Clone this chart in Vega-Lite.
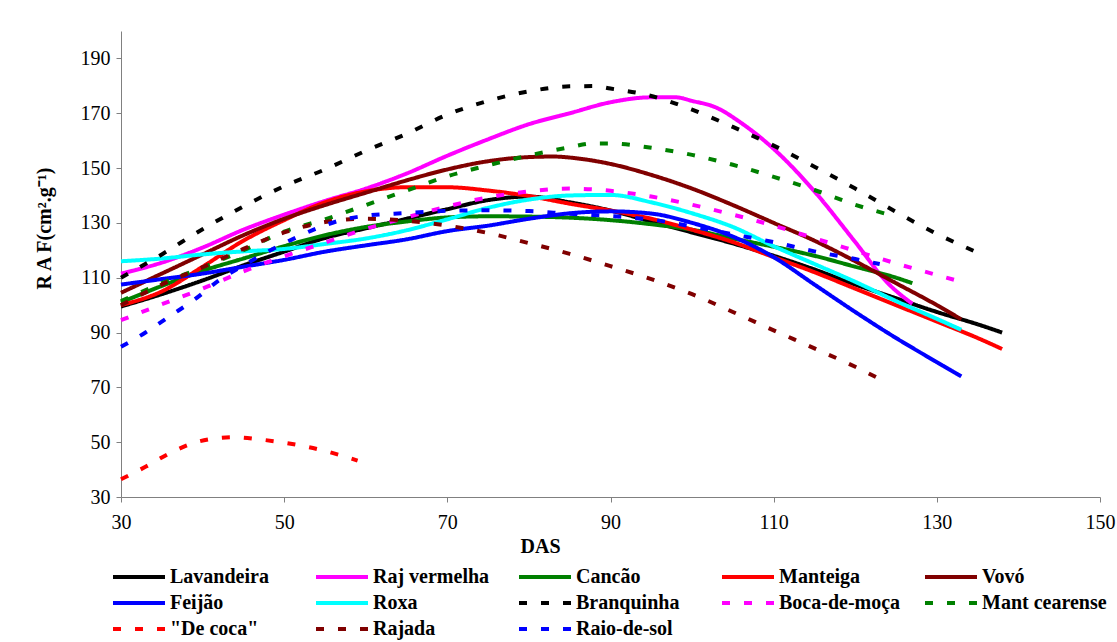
{
  "$schema": "https://vega.github.io/schema/vega-lite/v6.json",
  "width": 979,
  "height": 466,
  "autosize": {"type": "none"},
  "padding": {"left": 121, "top": 31, "right": 17, "bottom": 145},
  "background": "white",
  "config": {
    "view": {"stroke": null},
    "font": "Liberation Serif"
  },
  "data": {
    "values": [
      {"c":"Lavandeira","d":30,"r":99.5},{"c":"Lavandeira","d":35,"r":104},{"c":"Lavandeira","d":40,"r":109},{"c":"Lavandeira","d":45,"r":114.5},{"c":"Lavandeira","d":50,"r":119.5},{"c":"Lavandeira","d":55,"r":124.5},{"c":"Lavandeira","d":60,"r":128},{"c":"Lavandeira","d":65,"r":131.5},{"c":"Lavandeira","d":70,"r":135},{"c":"Lavandeira","d":75,"r":138.3},{"c":"Lavandeira","d":80,"r":139.6},{"c":"Lavandeira","d":85,"r":137.5},{"c":"Lavandeira","d":90,"r":134.5},{"c":"Lavandeira","d":95,"r":130.5},{"c":"Lavandeira","d":100,"r":126.5},{"c":"Lavandeira","d":105,"r":122.5},{"c":"Lavandeira","d":110,"r":118},{"c":"Lavandeira","d":115,"r":113},{"c":"Lavandeira","d":120,"r":107.5},{"c":"Lavandeira","d":125,"r":102.5},{"c":"Lavandeira","d":130,"r":97.5},{"c":"Lavandeira","d":135,"r":93},{"c":"Lavandeira","d":138,"r":90},
      {"c":"Raj vermelha","d":30,"r":111.5},{"c":"Raj vermelha","d":35,"r":115.5},{"c":"Raj vermelha","d":40,"r":121},{"c":"Raj vermelha","d":45,"r":127.5},{"c":"Raj vermelha","d":50,"r":133},{"c":"Raj vermelha","d":55,"r":138},{"c":"Raj vermelha","d":60,"r":142.5},{"c":"Raj vermelha","d":65,"r":148},{"c":"Raj vermelha","d":70,"r":154.5},{"c":"Raj vermelha","d":75,"r":160.5},{"c":"Raj vermelha","d":80,"r":166},{"c":"Raj vermelha","d":85,"r":170},{"c":"Raj vermelha","d":90,"r":174},{"c":"Raj vermelha","d":95,"r":175.8},{"c":"Raj vermelha","d":98,"r":175.8},{"c":"Raj vermelha","d":100,"r":174.5},{"c":"Raj vermelha","d":103,"r":172},{"c":"Raj vermelha","d":106,"r":166.5},{"c":"Raj vermelha","d":110,"r":157},{"c":"Raj vermelha","d":115,"r":141.5},{"c":"Raj vermelha","d":120,"r":123},{"c":"Raj vermelha","d":124,"r":108},{"c":"Raj vermelha","d":127,"r":100.5},
      {"c":"Cancão","d":30,"r":101},{"c":"Cancão","d":35,"r":107},{"c":"Cancão","d":40,"r":112.5},{"c":"Cancão","d":45,"r":117},{"c":"Cancão","d":50,"r":121.5},{"c":"Cancão","d":55,"r":125.5},{"c":"Cancão","d":60,"r":128.5},{"c":"Cancão","d":65,"r":130.5},{"c":"Cancão","d":70,"r":132},{"c":"Cancão","d":75,"r":132.4},{"c":"Cancão","d":80,"r":132.3},{"c":"Cancão","d":85,"r":131.9},{"c":"Cancão","d":90,"r":131},{"c":"Cancão","d":95,"r":129.5},{"c":"Cancão","d":100,"r":127.5},{"c":"Cancão","d":105,"r":124.3},{"c":"Cancão","d":110,"r":121.3},{"c":"Cancão","d":115,"r":118},{"c":"Cancão","d":120,"r":114},{"c":"Cancão","d":125,"r":110},{"c":"Cancão","d":127,"r":108},
      {"c":"Manteiga","d":30,"r":100},{"c":"Manteiga","d":35,"r":105},{"c":"Manteiga","d":40,"r":114},{"c":"Manteiga","d":45,"r":123.5},{"c":"Manteiga","d":50,"r":131},{"c":"Manteiga","d":55,"r":137.5},{"c":"Manteiga","d":60,"r":141.5},{"c":"Manteiga","d":65,"r":143},{"c":"Manteiga","d":70,"r":143},{"c":"Manteiga","d":75,"r":141.8},{"c":"Manteiga","d":80,"r":139.8},{"c":"Manteiga","d":85,"r":137},{"c":"Manteiga","d":90,"r":134.5},{"c":"Manteiga","d":95,"r":131.5},{"c":"Manteiga","d":100,"r":127.5},{"c":"Manteiga","d":105,"r":123},{"c":"Manteiga","d":110,"r":117.5},{"c":"Manteiga","d":115,"r":112},{"c":"Manteiga","d":120,"r":106},{"c":"Manteiga","d":125,"r":100},{"c":"Manteiga","d":130,"r":94},{"c":"Manteiga","d":135,"r":88},{"c":"Manteiga","d":138,"r":84},
      {"c":"Vovó","d":30,"r":104.5},{"c":"Vovó","d":35,"r":111.5},{"c":"Vovó","d":40,"r":118.5},{"c":"Vovó","d":45,"r":125.5},{"c":"Vovó","d":50,"r":131.5},{"c":"Vovó","d":55,"r":136.5},{"c":"Vovó","d":60,"r":141},{"c":"Vovó","d":65,"r":145.5},{"c":"Vovó","d":70,"r":149.5},{"c":"Vovó","d":75,"r":152.5},{"c":"Vovó","d":80,"r":154},{"c":"Vovó","d":83,"r":154.2},{"c":"Vovó","d":86,"r":153.5},{"c":"Vovó","d":90,"r":151.5},{"c":"Vovó","d":95,"r":147.5},{"c":"Vovó","d":100,"r":142.5},{"c":"Vovó","d":105,"r":136.5},{"c":"Vovó","d":110,"r":130},{"c":"Vovó","d":115,"r":123.5},{"c":"Vovó","d":120,"r":116},{"c":"Vovó","d":125,"r":108},{"c":"Vovó","d":130,"r":100},{"c":"Vovó","d":133,"r":94.8},
      {"c":"Feijão","d":30,"r":107.5},{"c":"Feijão","d":35,"r":109.5},{"c":"Feijão","d":40,"r":111.5},{"c":"Feijão","d":45,"r":114},{"c":"Feijão","d":50,"r":116.5},{"c":"Feijão","d":55,"r":119.5},{"c":"Feijão","d":60,"r":121.8},{"c":"Feijão","d":65,"r":124},{"c":"Feijão","d":70,"r":127},{"c":"Feijão","d":75,"r":129},{"c":"Feijão","d":80,"r":131.5},{"c":"Feijão","d":85,"r":133.5},{"c":"Feijão","d":90,"r":134.2},{"c":"Feijão","d":95,"r":133.4},{"c":"Feijão","d":100,"r":130},{"c":"Feijão","d":105,"r":125},{"c":"Feijão","d":110,"r":117.5},{"c":"Feijão","d":115,"r":107.5},{"c":"Feijão","d":120,"r":97.5},{"c":"Feijão","d":125,"r":88},{"c":"Feijão","d":130,"r":79.2},{"c":"Feijão","d":133,"r":74},
      {"c":"Roxa","d":30,"r":116},{"c":"Roxa","d":35,"r":117},{"c":"Roxa","d":40,"r":118.5},{"c":"Roxa","d":45,"r":119.6},{"c":"Roxa","d":50,"r":120.5},{"c":"Roxa","d":55,"r":122.3},{"c":"Roxa","d":60,"r":124.3},{"c":"Roxa","d":65,"r":127.3},{"c":"Roxa","d":70,"r":131.3},{"c":"Roxa","d":75,"r":135.5},{"c":"Roxa","d":80,"r":138.5},{"c":"Roxa","d":85,"r":140},{"c":"Roxa","d":90,"r":140.2},{"c":"Roxa","d":95,"r":137.5},{"c":"Roxa","d":100,"r":133.5},{"c":"Roxa","d":105,"r":128.5},{"c":"Roxa","d":110,"r":121.5},{"c":"Roxa","d":115,"r":115},{"c":"Roxa","d":120,"r":108.5},{"c":"Roxa","d":125,"r":101.5},{"c":"Roxa","d":130,"r":95},{"c":"Roxa","d":133,"r":91},
      {"c":"Branquinha","d":30,"r":110},{"c":"Branquinha","d":35,"r":118.5},{"c":"Branquinha","d":40,"r":127.7},{"c":"Branquinha","d":45,"r":136},{"c":"Branquinha","d":50,"r":143.4},{"c":"Branquinha","d":55,"r":149.5},{"c":"Branquinha","d":60,"r":156.3},{"c":"Branquinha","d":65,"r":162.5},{"c":"Branquinha","d":70,"r":169.5},{"c":"Branquinha","d":75,"r":174.5},{"c":"Branquinha","d":80,"r":178},{"c":"Branquinha","d":85,"r":179.8},{"c":"Branquinha","d":88,"r":179.9},{"c":"Branquinha","d":90,"r":179},{"c":"Branquinha","d":95,"r":176.3},{"c":"Branquinha","d":100,"r":171.3},{"c":"Branquinha","d":105,"r":165},{"c":"Branquinha","d":110,"r":158.2},{"c":"Branquinha","d":115,"r":150.5},{"c":"Branquinha","d":120,"r":142.5},{"c":"Branquinha","d":125,"r":134},{"c":"Branquinha","d":130,"r":126},{"c":"Branquinha","d":134.5,"r":119.8},
      {"c":"Boca-de-moça","d":30,"r":94.5},{"c":"Boca-de-moça","d":35,"r":100.3},{"c":"Boca-de-moça","d":40,"r":106},{"c":"Boca-de-moça","d":45,"r":112.3},{"c":"Boca-de-moça","d":50,"r":117.8},{"c":"Boca-de-moça","d":55,"r":122.8},{"c":"Boca-de-moça","d":60,"r":127.8},{"c":"Boca-de-moça","d":65,"r":132},{"c":"Boca-de-moça","d":70,"r":136},{"c":"Boca-de-moça","d":75,"r":139.3},{"c":"Boca-de-moça","d":80,"r":141.5},{"c":"Boca-de-moça","d":85,"r":142.5},{"c":"Boca-de-moça","d":88,"r":142.2},{"c":"Boca-de-moça","d":90,"r":141.7},{"c":"Boca-de-moça","d":95,"r":139.6},{"c":"Boca-de-moça","d":100,"r":136.6},{"c":"Boca-de-moça","d":105,"r":133},{"c":"Boca-de-moça","d":110,"r":129},{"c":"Boca-de-moça","d":115,"r":124.4},{"c":"Boca-de-moça","d":120,"r":119.8},{"c":"Boca-de-moça","d":125,"r":115.2},{"c":"Boca-de-moça","d":130,"r":111},{"c":"Boca-de-moça","d":133,"r":108.5},
      {"c":"Mant cearense","d":30,"r":101.5},{"c":"Mant cearense","d":35,"r":108},{"c":"Mant cearense","d":40,"r":113.7},{"c":"Mant cearense","d":45,"r":120},{"c":"Mant cearense","d":50,"r":126.8},{"c":"Mant cearense","d":55,"r":131.3},{"c":"Mant cearense","d":60,"r":136.5},{"c":"Mant cearense","d":65,"r":141.8},{"c":"Mant cearense","d":70,"r":147},{"c":"Mant cearense","d":75,"r":151},{"c":"Mant cearense","d":80,"r":154.6},{"c":"Mant cearense","d":85,"r":157.6},{"c":"Mant cearense","d":88,"r":159},{"c":"Mant cearense","d":90,"r":159},{"c":"Mant cearense","d":95,"r":157.4},{"c":"Mant cearense","d":100,"r":154.8},{"c":"Mant cearense","d":105,"r":151.2},{"c":"Mant cearense","d":110,"r":146.8},{"c":"Mant cearense","d":115,"r":142},{"c":"Mant cearense","d":120,"r":136.6},{"c":"Mant cearense","d":125,"r":132.3},
      {"c":"\"De coca\"","d":30,"r":36.5},{"c":"\"De coca\"","d":33,"r":41},{"c":"\"De coca\"","d":36,"r":46},{"c":"\"De coca\"","d":39,"r":49.8},{"c":"\"De coca\"","d":42,"r":51.5},{"c":"\"De coca\"","d":44,"r":51.8},{"c":"\"De coca\"","d":47,"r":51},{"c":"\"De coca\"","d":50,"r":49.8},{"c":"\"De coca\"","d":53,"r":48.2},{"c":"\"De coca\"","d":56,"r":46},{"c":"\"De coca\"","d":59,"r":43.3},
      {"c":"Rajada","d":30,"r":100},{"c":"Rajada","d":35,"r":107.5},{"c":"Rajada","d":40,"r":113.8},{"c":"Rajada","d":45,"r":120.5},{"c":"Rajada","d":50,"r":126.5},{"c":"Rajada","d":55,"r":130.3},{"c":"Rajada","d":60,"r":131.5},{"c":"Rajada","d":65,"r":130.8},{"c":"Rajada","d":70,"r":129},{"c":"Rajada","d":75,"r":126.3},{"c":"Rajada","d":80,"r":122.6},{"c":"Rajada","d":85,"r":118.7},{"c":"Rajada","d":90,"r":114.2},{"c":"Rajada","d":95,"r":109.5},{"c":"Rajada","d":100,"r":104},{"c":"Rajada","d":105,"r":97.5},{"c":"Rajada","d":110,"r":90.8},{"c":"Rajada","d":115,"r":84.2},{"c":"Rajada","d":120,"r":77.5},{"c":"Rajada","d":124,"r":71.5},
      {"c":"Raio-de-sol","d":30,"r":84.8},{"c":"Raio-de-sol","d":33,"r":90},{"c":"Raio-de-sol","d":36,"r":96},{"c":"Raio-de-sol","d":39,"r":102},{"c":"Raio-de-sol","d":42,"r":109},{"c":"Raio-de-sol","d":45,"r":114.5},{"c":"Raio-de-sol","d":48,"r":119.5},{"c":"Raio-de-sol","d":51,"r":124},{"c":"Raio-de-sol","d":54,"r":128},{"c":"Raio-de-sol","d":57,"r":131},{"c":"Raio-de-sol","d":60,"r":132.6},{"c":"Raio-de-sol","d":65,"r":133.6},{"c":"Raio-de-sol","d":70,"r":134.4},{"c":"Raio-de-sol","d":75,"r":134.6},{"c":"Raio-de-sol","d":80,"r":134.3},{"c":"Raio-de-sol","d":85,"r":133.3},{"c":"Raio-de-sol","d":90,"r":132.5},{"c":"Raio-de-sol","d":95,"r":131.2},{"c":"Raio-de-sol","d":100,"r":128.7},{"c":"Raio-de-sol","d":105,"r":125.8},{"c":"Raio-de-sol","d":110,"r":123},{"c":"Raio-de-sol","d":115,"r":119.6},{"c":"Raio-de-sol","d":120,"r":116.8},{"c":"Raio-de-sol","d":123,"r":115}
    ]
  },
  "mark": {"type": "line", "interpolate": "monotone", "strokeWidth": 4, "strokeCap": "butt"},
  "encoding": {
    "x": {
      "field": "d", "type": "quantitative",
      "scale": {"domain": [30, 150], "nice": false, "zero": false},
      "axis": {
        "title": "DAS", "values": [30, 50, 70, 90, 110, 130, 150],
        "grid": false, "domainColor": "#808080", "tickColor": "#808080", "tickSize": 5,
        "labelFlush": false, "labelOverlap": false,
        "labelFont": "Liberation Serif", "labelFontSize": 20, "labelColor": "#000", "labelPadding": 10,
        "titleFont": "Liberation Serif", "titleFontSize": 20, "titleFontWeight": "bold", "titleColor": "#000",
        "titlePadding": 4, "titleX": 419
      }
    },
    "y": {
      "field": "r", "type": "quantitative",
      "scale": {"domain": [30, 200], "nice": false, "zero": false},
      "axis": {
        "title": "R A F(cm².g⁻¹)", "values": [30, 50, 70, 90, 110, 130, 150, 170, 190],
        "grid": false, "domainColor": "#808080", "tickColor": "#808080", "tickSize": 5,
        "labelFlush": false, "labelOverlap": false,
        "labelFont": "Liberation Serif", "labelFontSize": 20, "labelColor": "#000", "labelPadding": 6,
        "titleFont": "Liberation Serif", "titleFontSize": 20, "titleFontWeight": "bold", "titleColor": "#000",
        "titlePadding": 26, "titleY": 197
      }
    },
    "color": {
      "field": "c", "type": "nominal",
      "scale": {
        "domain": ["Lavandeira", "Raj vermelha", "Cancão", "Manteiga", "Vovó", "Feijão", "Roxa", "Branquinha", "Boca-de-moça", "Mant cearense", "\"De coca\"", "Rajada", "Raio-de-sol"],
        "range": ["#000000", "#FF00FF", "#008000", "#FF0000", "#800000", "#0000FF", "#00FFFF", "#000000", "#FF00FF", "#008000", "#FF0000", "#800000", "#0000FF"]
      },
      "legend": {
        "title": null, "orient": "none", "legendX": 6, "legendY": 534,
        "direction": "horizontal", "columns": 5, "gridAlign": "all", "columnPadding": 13, "rowPadding": 4,
        "symbolType": "M-2.6,0H2.6", "symbolSize": 400, "symbolStrokeWidth": 4,
        "labelOffset": 19, "labelFont": "Liberation Serif", "labelFontSize": 20, "labelFontWeight": "bold", "labelColor": "#000", "labelLimit": 300
      }
    },
    "strokeDash": {
      "field": "c", "type": "nominal",
      "scale": {
        "domain": ["Lavandeira", "Raj vermelha", "Cancão", "Manteiga", "Vovó", "Feijão", "Roxa", "Branquinha", "Boca-de-moça", "Mant cearense", "\"De coca\"", "Rajada", "Raio-de-sol"],
        "range": [[1, 0], [1, 0], [1, 0], [1, 0], [1, 0], [1, 0], [1, 0], [8, 14], [8, 14], [8, 14], [8, 14], [8, 14], [8, 14]]
      },
      "legend": null
    }
  }
}
